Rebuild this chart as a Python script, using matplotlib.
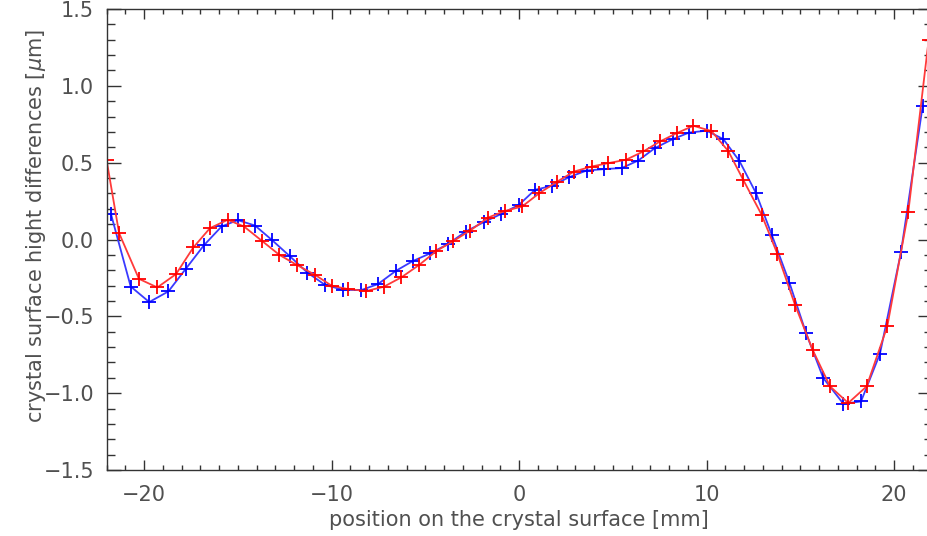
import matplotlib
matplotlib.use("Agg")
import matplotlib.pyplot as plt
import numpy as np
from matplotlib.ticker import MultipleLocator, FuncFormatter

# measured profile (blue) and fitted / reference profile (red)
blue_x = [-21.76, -20.71, -19.72, -18.70, -17.76, -16.80, -15.86, -15.00, -14.08, -13.19,
          -12.21, -11.29, -10.35, -9.40, -8.43, -7.52, -6.58, -5.66, -4.75, -3.80,
          -2.84, -1.86, -0.97, 0.00, 0.85, 1.74, 2.68, 3.61, 4.53, 5.48,
          6.36, 7.25, 8.20, 9.08, 10.01, 10.90, 11.75, 12.64, 13.48, 14.42,
          15.31, 16.23, 17.30, 18.24, 19.25, 20.37, 21.53]
blue_y = [0.165, -0.306, -0.407, -0.338, -0.189, -0.037, 0.085, 0.126, 0.091, -0.002,
          -0.110, -0.215, -0.295, -0.327, -0.330, -0.290, -0.205, -0.140, -0.091, -0.031,
          0.052, 0.114, 0.165, 0.226, 0.323, 0.349, 0.406, 0.449, 0.458, 0.465,
          0.514, 0.595, 0.653, 0.696, 0.708, 0.653, 0.512, 0.302, 0.031, -0.280,
          -0.609, -0.902, -1.069, -1.054, -0.744, -0.084, 0.870]

red_x = [-22.00, -21.33, -20.27, -19.29, -18.29, -17.37, -16.48, -15.54, -14.67, -13.72,
         -12.78, -11.86, -10.88, -9.99, -9.10, -8.14, -7.22, -6.27, -5.32, -4.41,
         -3.50, -2.61, -1.64, -0.77, 0.17, 1.09, 2.04, 2.93, 3.88, 4.76,
         5.71, 6.63, 7.52, 8.41, 9.30, 10.26, 11.16, 11.96, 12.94, 13.78,
         14.72, 15.66, 16.59, 17.56, 18.54, 19.64, 20.76, 21.85]
red_y = [0.520, 0.042, -0.256, -0.312, -0.225, -0.052, 0.074, 0.128, 0.085, -0.008,
         -0.100, -0.165, -0.230, -0.301, -0.323, -0.335, -0.308, -0.246, -0.165, -0.075,
         -0.010, 0.058, 0.143, 0.185, 0.215, 0.302, 0.377, 0.442, 0.475, 0.497,
         0.519, 0.573, 0.638, 0.692, 0.740, 0.706, 0.576, 0.388, 0.161, -0.093,
         -0.425, -0.718, -0.956, -1.064, -0.956, -0.566, 0.176, 1.300]

text_col = "#505050"
plt.rcParams['font.family'] = ['DejaVu Sans']

fig = plt.figure(figsize=(9.27, 5.36), dpi=100)
# right edge of the plot box is slightly off the picture, like in the original
ax = fig.add_axes([106.5 / 927, 66 / 536, 825 / 927, 461 / 536])

ax.plot(blue_x, blue_y, color="#3a3aff", lw=1.3, marker="+", ms=10, mew=1.3, mec="blue")
ax.plot(red_x, red_y, color="#ff3a3a", lw=1.3, marker="+", ms=10, mew=1.3, mec="red")

ax.set_xlim(-22, 22)
ax.set_ylim(-1.5, 1.5)
ax.xaxis.set_major_locator(MultipleLocator(10))
ax.xaxis.set_minor_locator(MultipleLocator(1))
ax.yaxis.set_major_locator(MultipleLocator(0.5))
ax.yaxis.set_minor_locator(MultipleLocator(0.1))
ax.xaxis.set_major_formatter(FuncFormatter(lambda v, p: ("%d" % v).replace("-", "\u2212")))
ax.yaxis.set_major_formatter(FuncFormatter(lambda v, p: ("%.1f" % v).replace("-", "\u2212")))

ax.tick_params(which="both", direction="in", top=True, right=True, colors="#333333",
               labelcolor=text_col, labelsize=15, width=1)
ax.tick_params(axis="x", which="major", length=7, pad=11)
ax.tick_params(axis="x", which="minor", length=3.6)
ax.tick_params(axis="y", which="major", length=10, pad=9)
ax.tick_params(axis="y", which="minor", length=5.5)
for s in ax.spines.values():
    s.set_color("#333333")
    s.set_linewidth(1)

ax.set_xlabel("position on the crystal surface [mm]", color=text_col, fontsize=15)
ax.set_ylabel("crystal surface hight differences [$\\mu$m]", color=text_col, fontsize=15)
ax.xaxis.set_label_coords(0.5, -0.087)
ax.yaxis.set_label_coords(-0.071, 0.53)

fig.savefig("out.png", dpi=100)
